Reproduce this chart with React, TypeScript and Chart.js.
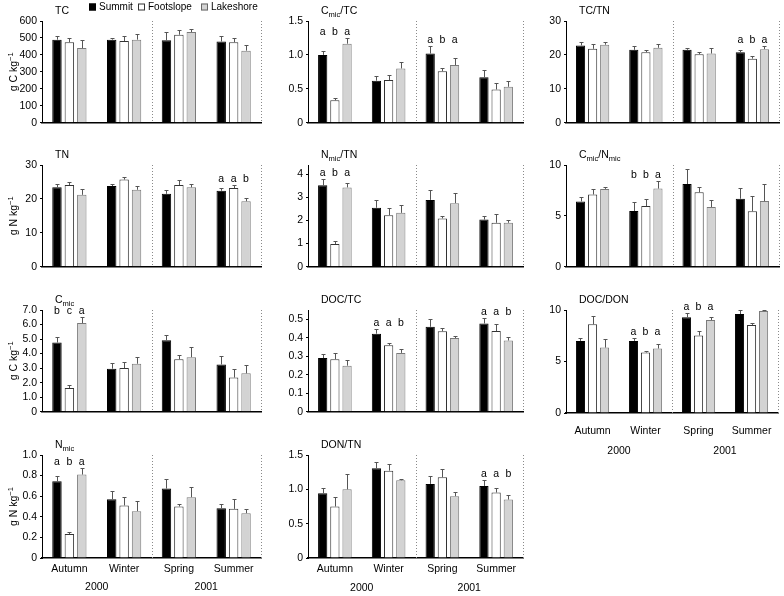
import React, { useEffect, useRef } from 'react';
import { Chart, registerables } from 'chart.js';
Chart.register(...registerables);

const FONT = "'Liberation Sans', Arial, Helvetica, sans-serif";
const FS = 10.5;

const SEASONS = ['Autumn', 'Winter', 'Spring', 'Summer'];
const YEARS = ['2000', '2001'];
const SITES = ['Summit', 'Footslope', 'Lakeshore'];

// [site][season]
const TC_MEAN = [[490, 490, 486, 479], [475, 482, 519, 475], [440, 490, 535, 425]];
const TC_ERR = [[23, 10, 50, 34], [23, 31, 29, 25], [50, 33, 17, 31]];
const TC_LET = ['', '', '', ''];

const TN_MEAN = [[23.4, 23.8, 21.5, 22.4], [24.1, 25.7, 24.1, 23.2], [21.2, 22.7, 23.4, 19.3]];
const TN_ERR = [[1.0, 0.5, 1.2, 0.9], [0.9, 0.9, 1.5, 0.8], [1.6, 1.2, 0.9, 1.1]];
const TN_LET = ['', '', '', 'aab'];

const CMIC_MEAN = [[4.76, 2.96, 4.92, 3.25], [1.63, 3.0, 3.61, 2.35], [6.1, 3.3, 3.75, 2.64]];
const CMIC_ERR = [[0.39, 0.40, 0.38, 0.56], [0.24, 0.39, 0.27, 0.56], [0.40, 0.47, 0.72, 0.54]];
const CMIC_LET = ['bca', '', '', ''];

const NMIC_MEAN = [[0.745, 0.571, 0.674, 0.484], [0.232, 0.51, 0.5, 0.477], [0.81, 0.455, 0.59, 0.435]];
const NMIC_ERR = [[0.052, 0.081, 0.097, 0.039], [0.023, 0.087, 0.023, 0.094], [0.061, 0.10, 0.104, 0.036]];
const NMIC_LET = ['aba', '', '', ''];

const CMICTC_MEAN = [[1.0, 0.62, 1.02, 0.67], [0.33, 0.63, 0.76, 0.49], [1.165, 0.80, 0.85, 0.53]];
const CMICTC_ERR = [[0.06, 0.07, 0.11, 0.11], [0.04, 0.07, 0.04, 0.095], [0.085, 0.10, 0.10, 0.08]];
const CMICTC_LET = ['aba', '', 'aba', ''];

const NMICTN_MEAN = [[3.52, 2.55, 2.89, 2.04], [0.98, 2.23, 2.09, 1.90], [3.43, 2.33, 2.75, 1.90]];
const NMICTN_ERR = [[0.27, 0.32, 0.43, 0.14], [0.12, 0.32, 0.11, 0.36], [0.19, 0.34, 0.44, 0.14]];
const NMICTN_LET = ['aba', '', '', ''];

const DOCTC_MEAN = [[0.29, 0.422, 0.459, 0.477], [0.284, 0.359, 0.435, 0.436], [0.249, 0.318, 0.398, 0.385]];
const DOCTC_ERR = [[0.023, 0.027, 0.043, 0.032], [0.036, 0.012, 0.019, 0.036], [0.028, 0.019, 0.014, 0.018]];
const DOCTC_LET = ['', 'aab', '', 'aab'];

const DONTN_MEAN = [[0.943, 1.306, 1.079, 1.05], [0.75, 1.272, 1.176, 0.953], [1.0, 1.132, 0.9, 0.851]];
const DONTN_ERR = [[0.073, 0.087, 0.111, 0.082], [0.135, 0.092, 0.116, 0.063], [0.22, 0.019, 0.068, 0.068]];
const DONTN_LET = ['', '', '', 'aab'];

const TCTN_MEAN = [[22.8, 21.5, 21.5, 20.8], [21.8, 20.8, 20.2, 18.9], [23.0, 22.1, 20.4, 21.7]];
const TCTN_ERR = [[1.0, 1.1, 0.6, 0.7], [1.4, 0.7, 0.6, 0.7], [0.7, 1.0, 1.6, 0.8]];
const TCTN_LET = ['', '', '', 'aba'];

const CNMIC_MEAN = [[6.42, 5.48, 8.13, 6.68], [7.1, 5.97, 7.32, 5.45], [7.65, 7.68, 5.87, 6.45]];
const CNMIC_ERR = [[0.48, 0.87, 1.47, 1.09], [0.55, 0.71, 0.52, 1.49], [0.22, 0.71, 0.71, 1.68]];
const CNMIC_LET = ['', 'bba', '', ''];

const DOCDON_MEAN = [[7.0, 7.0, 9.29, 9.61], [8.61, 5.87, 7.52, 8.55], [6.35, 6.26, 9.03, 9.9]];
const DOCDON_ERR = [[0.26, 0.26, 0.39, 0.36], [0.84, 0.19, 0.45, 0.22], [0.81, 0.42, 0.26, 0.1]];
const DOCDON_LET = ['', 'aba', 'aba', ''];

const FILL = ['#000000', '#ffffff', '#d3d3d3'];
const EDGE = ['#000000', '#333333', '#7a7a7a'];

type Seg = { t: string; s?: 'sub' | 'sup' };

const COLS = [
  { left: 0, width: 266, plotLeft: 42, plotRight: 261, labelPad: 5, yearOff: 29, axisH: 38 },
  { left: 268, width: 260, plotLeft: 308, plotRight: 523, labelPad: 5, yearOff: 30, axisH: 38 },
  { left: 530, width: 254, plotLeft: 566, plotRight: 779, labelPad: 12, yearOff: 38, axisH: 48 },
];
const ROW_TOPS = [21, 165, 310, 455];
const PLOT_H = 103;
const TOP_PAD = 21;

const PANELS = [
  { title: [{ t: 'TC' }], unit: 'g C kg', mean: TC_MEAN, err: TC_ERR, letters: TC_LET, max: 600, step: 100, dec: 0, col: 0, row: 0, legend: true },
  { title: [{ t: 'TN' }], unit: 'g N kg', mean: TN_MEAN, err: TN_ERR, letters: TN_LET, max: 30, step: 10, dec: 0, col: 0, row: 1 },
  { title: [{ t: 'C' }, { t: 'mic', s: 'sub' }], unit: 'g C kg', mean: CMIC_MEAN, err: CMIC_ERR, letters: CMIC_LET, max: 7, step: 1, dec: 1, col: 0, row: 2 },
  { title: [{ t: 'N' }, { t: 'mic', s: 'sub' }], unit: 'g N kg', mean: NMIC_MEAN, err: NMIC_ERR, letters: NMIC_LET, max: 1, step: 0.2, dec: 1, col: 0, row: 3, labeled: true },
  { title: [{ t: 'C' }, { t: 'mic', s: 'sub' }, { t: '/TC' }], mean: CMICTC_MEAN, err: CMICTC_ERR, letters: CMICTC_LET, max: 1.5, step: 0.5, dec: 1, col: 1, row: 0 },
  { title: [{ t: 'N' }, { t: 'mic', s: 'sub' }, { t: '/TN' }], mean: NMICTN_MEAN, err: NMICTN_ERR, letters: NMICTN_LET, max: 4.4, step: 1, dec: 0, col: 1, row: 1 },
  { title: [{ t: 'DOC/TC' }], mean: DOCTC_MEAN, err: DOCTC_ERR, letters: DOCTC_LET, max: 0.55, step: 0.1, dec: 1, col: 1, row: 2 },
  { title: [{ t: 'DON/TN' }], mean: DONTN_MEAN, err: DONTN_ERR, letters: DONTN_LET, max: 1.5, step: 0.5, dec: 1, col: 1, row: 3, labeled: true },
  { title: [{ t: 'TC/TN' }], mean: TCTN_MEAN, err: TCTN_ERR, letters: TCTN_LET, max: 30, step: 10, dec: 0, col: 2, row: 0 },
  { title: [{ t: 'C' }, { t: 'mic', s: 'sub' }, { t: '/N' }, { t: 'mic', s: 'sub' }], mean: CNMIC_MEAN, err: CNMIC_ERR, letters: CNMIC_LET, max: 10, step: 5, dec: 0, col: 2, row: 1 },
  { title: [{ t: 'DOC/DON' }], mean: DOCDON_MEAN, err: DOCDON_ERR, letters: DOCDON_LET, max: 10, step: 5, dec: 0, col: 2, row: 2, labeled: true },
];

function drawRich(ctx: CanvasRenderingContext2D, segs: Seg[], x: number, y: number, size: number, align: 'left' | 'center') {
  const parts = segs.map((s) => {
    const fs = s.s ? size * 0.72 : size;
    ctx.font = `${fs}px ${FONT}`;
    return { ...s, fs, w: ctx.measureText(s.t).width };
  });
  const total = parts.reduce((a, p) => a + p.w, 0);
  let cx = align === 'center' ? x - total / 2 : x;
  ctx.textAlign = 'left';
  ctx.textBaseline = 'alphabetic';
  for (const p of parts) {
    ctx.font = `${p.fs}px ${FONT}`;
    const dy = p.s === 'sub' ? size * 0.32 : p.s === 'sup' ? -size * 0.42 : 0;
    ctx.fillText(p.t, cx, y + dy);
    cx += p.w;
  }
}

function makeDecor(p: any) {
  const col = COLS[p.col];
  return {
    id: 'decor',
    afterDraw(chart: any) {
      const ctx: CanvasRenderingContext2D = chart.ctx;
      const ca = chart.chartArea;
      const xs = chart.scales.x;
      const ys = chart.scales.y;
      ctx.save();
      ctx.strokeStyle = '#8a8a8a';
      ctx.lineWidth = 1;
      ctx.setLineDash([1, 2]);
      const mid = (xs.getPixelForValue(1) + xs.getPixelForValue(2)) / 2;
      [mid, ca.right].forEach((x) => {
        const xx = Math.round(x) + 0.5;
        ctx.beginPath();
        ctx.moveTo(xx, ca.top);
        ctx.lineTo(xx, ca.bottom);
        ctx.stroke();
      });
      ctx.setLineDash([]);
      ctx.strokeStyle = '#555';
      ctx.lineWidth = 1;
      p.mean.forEach((row: number[], i: number) => {
        const meta = chart.getDatasetMeta(i);
        row.forEach((v: number, j: number) => {
          const el = meta.data[j];
          const x = Math.round(el.x) + 0.5;
          const yt = Math.round(ys.getPixelForValue(v + p.err[i][j])) + 0.5;
          ctx.beginPath();
          ctx.moveTo(x, el.y);
          ctx.lineTo(x, yt);
          ctx.moveTo(x - 2, yt);
          ctx.lineTo(x + 2, yt);
          ctx.stroke();
        });
      });
      ctx.fillStyle = '#000';
      ctx.font = `${FS}px ${FONT}`;
      ctx.textAlign = 'center';
      ctx.textBaseline = 'alphabetic';
      p.letters.forEach((s: string, j: number) => {
        if (!s) return;
        let top = Infinity;
        p.mean.forEach((row: number[], i: number) => {
          top = Math.min(top, ys.getPixelForValue(row[j] + p.err[i][j]));
        });
        for (let i = 0; i < s.length; i++) {
          const el = chart.getDatasetMeta(i).data[j];
          ctx.fillText(s[i], el.x, top - 3);
        }
      });
      drawRich(ctx, p.title, col.plotLeft - col.left + 13, ca.top - 7, FS, 'left');
      if (p.unit) {
        ctx.save();
        ctx.translate(13, (ca.top + ca.bottom) / 2);
        ctx.rotate(-Math.PI / 2);
        drawRich(ctx, [{ t: p.unit }, { t: '\u22121', s: 'sup' }], 0, 4, FS, 'center');
        ctx.restore();
      }
      if (p.labeled) {
        ctx.font = `${FS}px ${FONT}`;
        ctx.textAlign = 'center';
        ctx.textBaseline = 'middle';
        const yy = ca.bottom + col.yearOff;
        ctx.fillText(YEARS[0], (ca.left + mid) / 2, yy);
        ctx.fillText(YEARS[1], (mid + ca.right) / 2, yy);
      }
      if (p.legend) {
        const xs0 = [89, 138, 201];
        SITES.forEach((s, i) => {
          ctx.fillStyle = FILL[i];
          ctx.fillRect(xs0[i], 3.5, 7, 7);
          ctx.strokeStyle = i === 0 ? '#000' : i === 1 ? '#333' : '#666';
          ctx.strokeRect(xs0[i] + 0.5, 4, 6, 6);
          ctx.fillStyle = '#000';
          ctx.font = `10px ${FONT}`;
          ctx.textAlign = 'left';
          ctx.textBaseline = 'middle';
          ctx.fillText(s, xs0[i] + 10, 7.5);
        });
      }
      ctx.restore();
    },
  };
}

function Panel({ p }: { p: any }) {
  const ref = useRef<HTMLCanvasElement | null>(null);
  const col = COLS[p.col];
  const axisH = p.labeled ? col.axisH : 8;
  const top = ROW_TOPS[p.row] - TOP_PAD;
  const height = TOP_PAD + PLOT_H + axisH;
  const width = col.width;
  useEffect(() => {
    if (!ref.current) return;
    const chart = new Chart(ref.current, {
      type: 'bar',
      data: {
        labels: SEASONS,
        datasets: SITES.map((s, i) => ({
          label: s,
          data: p.mean[i],
          backgroundColor: FILL[i],
          borderColor: EDGE[i],
          borderWidth: 1,
          categoryPercentage: 0.68,
          barPercentage: 0.76,
        })),
      },
      options: {
        responsive: false,
        animation: false,
        devicePixelRatio: 1,
        layout: { padding: { top: TOP_PAD, left: 0, bottom: 0, right: col.left + col.width - col.plotRight } },
        plugins: { legend: { display: false }, tooltip: { enabled: false }, title: { display: false } },
        scales: {
          x: {
            grid: { display: false, drawTicks: false },
            border: { display: true, color: '#000', width: 1.5 },
            ticks: { display: !!p.labeled, padding: col.labelPad, color: '#000', font: { size: FS, family: FONT }, maxRotation: 0, autoSkip: false },
            afterFit: (s: any) => { s.height = axisH; },
          },
          y: {
            min: 0,
            max: p.max,
            grid: { display: true, drawOnChartArea: false, drawTicks: true, tickLength: 2, color: '#000' },
            border: { display: true, color: '#000', width: 1 },
            ticks: {
              stepSize: p.step,
              includeBounds: false,
              padding: 3,
              color: '#000',
              font: { size: FS, family: FONT },
              callback: (v: any) => (Number(v) === 0 ? '0' : Number(v).toFixed(p.dec)),
            },
            afterFit: (s: any) => { s.width = col.plotLeft - col.left; },
          },
        },
      },
      plugins: [makeDecor(p)],
    } as any);
    return () => chart.destroy();
  }, []);
  return (
    <canvas
      ref={ref}
      width={width}
      height={height}
      style={{ position: 'absolute', left: col.left, top, width, height, display: 'block' }}
    />
  );
}

export default function App() {
  return (
    <div style={{ position: 'absolute', left: 0, top: 0, width: 784, height: 596, background: '#fff', overflow: 'hidden' }}>
      {PANELS.map((p, i) => (
        <Panel key={i} p={p} />
      ))}
    </div>
  );
}
